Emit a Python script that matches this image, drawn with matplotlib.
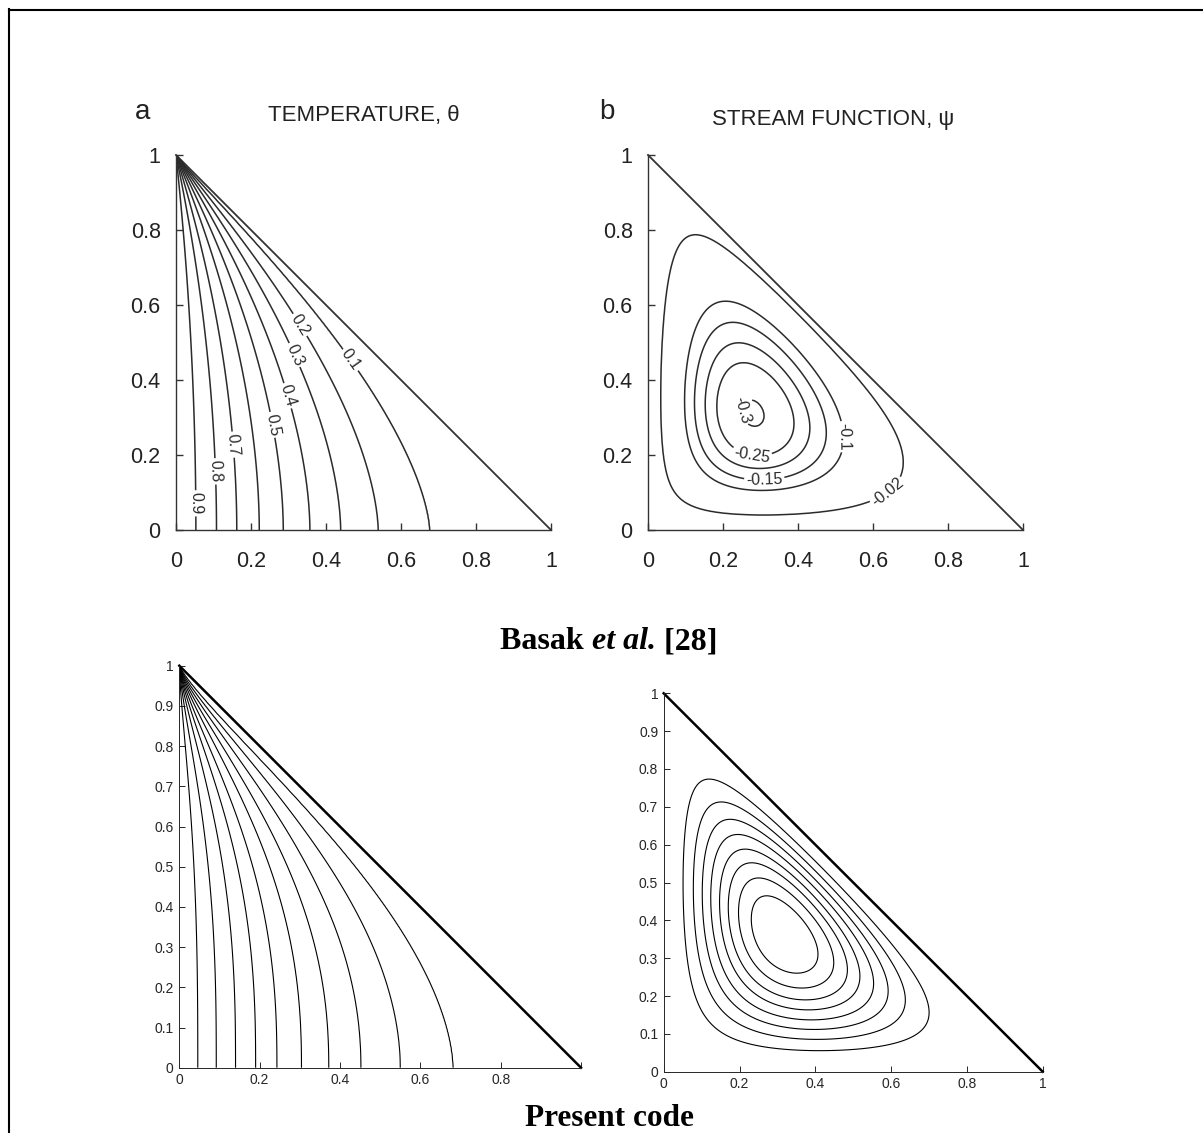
import numpy as np
import matplotlib.pyplot as plt
from matplotlib.lines import Line2D
from matplotlib.ticker import FormatStrFormatter

plt.rcParams['font.family'] = ['Liberation Sans', 'DejaVu Sans']

W, H = 1203, 1133

# --- Basak et al. : isotherms (level, and x where each one meets the adiabatic floor)
theta_levels = [0.9, 0.8, 0.7, 0.6, 0.5, 0.4, 0.3, 0.2, 0.1]
theta_foot = [0.053, 0.108, 0.162, 0.222, 0.286, 0.357, 0.439, 0.539, 0.676]
theta_labelled = [0.9, 0.8, 0.7, 0.5, 0.4, 0.3, 0.2, 0.1]

# --- Basak et al. : streamlines; extremes (top, right, left, bottom) of each loop
psi_levels = [-0.02, -0.1, -0.15, -0.2, -0.25, -0.3]
psi_labelled = [-0.3, -0.25, -0.15, -0.1, -0.02]
psi_min = -0.31
psi_centre = (0.28, 0.31)
psi_loops = [
    [(0.103, 0.78), (0.678, 0.164), (0.034, 0.42), (0.308, 0.04)],
    [(0.174, 0.618), (0.539, 0.204), (0.112, 0.40), (0.29, 0.111)],
    [(0.192, 0.56), (0.481, 0.231), (0.134, 0.39), (0.29, 0.138)],
    [(0.219, 0.498), (0.436, 0.267), (0.156, 0.38), (0.29, 0.169)],
    [(0.228, 0.444), (0.388, 0.307), (0.179, 0.373), (0.281, 0.213)],
    [(0.28, 0.333), (0.312, 0.31), (0.242, 0.31), (0.28, 0.288)],
]

# --- present code
present_theta_levels = [0.91, 0.82, 0.73, 0.64, 0.55, 0.45, 0.36, 0.27, 0.18, 0.09]
present_theta_foot = [0.046, 0.092, 0.140, 0.190, 0.243, 0.304, 0.372, 0.452, 0.550, 0.681]
present_centre = (0.315, 0.36)
present_loops = [
    [(0.131, 0.773), (0.694, 0.189), (0.052, 0.445), (0.32, 0.059)],
    [(0.153, 0.709), (0.633, 0.211), (0.077, 0.43), (0.325, 0.089)],
    [(0.188, 0.661), (0.588, 0.225), (0.100, 0.42), (0.325, 0.115)],
    [(0.201, 0.617), (0.551, 0.242), (0.122, 0.41), (0.325, 0.139)],
    [(0.223, 0.579), (0.516, 0.256), (0.147, 0.40), (0.325, 0.165)],
    [(0.245, 0.542), (0.478, 0.278), (0.168, 0.39), (0.328, 0.189)],
    [(0.263, 0.504), (0.442, 0.308), (0.193, 0.38), (0.328, 0.225)],
    [(0.285, 0.455), (0.401, 0.33), (0.228, 0.366), (0.329, 0.262)],
]


def feat(x, y):
    z = 1 - x - y
    return np.array([np.log(x), np.log(y), np.log(z), x, y, x * x])


def fit_cell(loops, centre):
    # log of the cell strength is linear in its parameters: make every loop
    # an iso-line and put the peak at the centre (exponent on x fixed to 2)
    rows, rhs = [], []
    for i, pts in enumerate(loops):
        w = 2.0 if i == 0 else 1.0
        f0 = feat(*pts[0])
        for p in pts[1:]:
            rows.append(w * (feat(*p) - f0))
            rhs.append(0.0)
    xc, yc = centre
    zc = 1 - xc - yc
    rows.append(3 * np.array([1 / xc, 0, -1 / zc, 1, 0, 2 * xc]))
    rows.append(3 * np.array([0, 1 / yc, -1 / zc, 0, 1, 0]))
    rows.append(20 * np.array([1.0, 0, 0, 0, 0, 0]))
    rhs += [0.0, 0.0, 40.0]
    u, *_ = np.linalg.lstsq(np.array(rows), np.array(rhs), rcond=None)
    return u


def cell(X, Y, u, loops):
    Z = 1 - X - Y
    ok = (X > 0) & (Y > 0) & (Z > 0)
    lf = np.full(X.shape, -np.inf)
    lf[ok] = np.tensordot(u, feat(X[ok], Y[ok]), axes=1)
    top = lf.max()
    depth = [np.mean([np.exp(u @ feat(*p) - top) for p in pts]) for pts in loops]
    return np.exp(lf - top), depth


def temperature(X, Y, foot, levels, m0, m1, k0, k1):
    # each isotherm runs x = x0 * (1 - y**m)**k from its foot x0 up to the corner (0, 1)
    lo = np.zeros_like(X)
    hi = np.full_like(X, 1.3)
    for _ in range(40):
        mid = 0.5 * (lo + hi)
        m = m0 - m1 * mid
        k = k0 + k1 * mid
        xm = mid * (1 - Y ** m) ** k
        left = xm < X
        lo = np.where(left, mid, lo)
        hi = np.where(left, hi, mid)
    x0 = 0.5 * (lo + hi)
    T = np.interp(x0, [0] + foot + [1.0], [1.0] + levels + [0.0])
    T[X + Y > 1.0005] = np.nan
    return T


g = np.linspace(0, 1, 401)
X, Y = np.meshgrid(g, g)

fig = plt.figure(figsize=(W / 100, H / 100), dpi=100)


def px_axes(xa, xb, ya, yb):
    # xa, xb: pixel x of data 0 and 1; ya, yb: pixel y of data 0 and 1
    return fig.add_axes([xa / W, 1 - ya / H, (xb - xa) / W, (ya - yb) / H])


def top_style(ax):
    ax.set_xlim(0, 1)
    ax.set_ylim(0, 1)
    for s in ['top', 'right']:
        ax.spines[s].set_visible(False)
    for s in ['left', 'bottom']:
        ax.spines[s].set_color('#333333')
        ax.spines[s].set_linewidth(1.0)
    ticks = [0, 0.2, 0.4, 0.6, 0.8, 1]
    ax.set_xticks(ticks)
    ax.set_yticks(ticks)
    ax.xaxis.set_major_formatter(FormatStrFormatter('%g'))
    ax.yaxis.set_major_formatter(FormatStrFormatter('%g'))
    ax.tick_params(direction='in', length=5, width=1.0, color='#333333',
                   labelsize=15.5, labelcolor='#222222')
    ax.tick_params(axis='x', pad=15)
    ax.tick_params(axis='y', pad=11)
    ax.plot([0, 1], [1, 0], color='#333333', lw=1.3, clip_on=False)


def bottom_style(ax, xlabels):
    ax.set_xlim(0, 1)
    ax.set_ylim(0, 1)
    for s in ['top', 'right']:
        ax.spines[s].set_visible(False)
    for s in ['left', 'bottom']:
        ax.spines[s].set_color('#262626')
        ax.spines[s].set_linewidth(0.7)
    ax.set_xticks([0, 0.2, 0.4, 0.6, 0.8, 1])
    ax.set_xticklabels(xlabels)
    ax.set_yticks(np.round(np.arange(0, 1.01, 0.1), 1))
    ax.yaxis.set_major_formatter(FormatStrFormatter('%g'))
    ax.tick_params(direction='in', length=4, width=0.7, color='#262626',
                   labelsize=10, labelcolor='#262626', pad=4)
    ax.plot([0, 1], [1, 0], color='black', lw=1.8, clip_on=False)


line_col = '#2b2b2b'

# (a) temperature, Basak et al.
ax1 = px_axes(176, 551, 530, 155)
top_style(ax1)
T1 = temperature(X, Y, theta_foot, theta_levels, 2.05, 0.75, 1.0, 0.1)
plain = [v for v in theta_levels if v not in theta_labelled]
ax1.contour(X, Y, T1, levels=sorted(plain), colors=line_col, linewidths=1.1)
cs1 = ax1.contour(X, Y, T1, levels=sorted(theta_labelled), colors=line_col, linewidths=1.1)
ax1.clabel(cs1, fmt='%g', fontsize=11.5, inline_spacing=2,
           manual=[(0.044, 0.071), (0.095, 0.156), (0.144, 0.227), (0.255, 0.28),
                   (0.304, 0.36), (0.317, 0.467), (0.322, 0.542), (0.46, 0.449)])

# (b) stream function, Basak et al.
ax2 = px_axes(648, 1023, 530, 155)
top_style(ax2)
G2, depth2 = cell(X, Y, fit_cell(psi_loops, psi_centre), psi_loops)
order = np.argsort(depth2)
psi = np.interp(G2, [0.0] + [depth2[i] for i in order] + [1.0],
                [0.0] + [psi_levels[i] for i in order] + [psi_min])
plain = [v for v in psi_levels if v not in psi_labelled]
ax2.contour(X, Y, psi, levels=sorted(plain), colors=line_col, linewidths=1.1,
            linestyles='solid')
cs2 = ax2.contour(X, Y, psi, levels=sorted(psi_labelled), colors=line_col, linewidths=1.1,
                  linestyles='solid')
labels2 = ax2.clabel(cs2, fmt='%g', fontsize=11.5, inline_spacing=2,
                     manual=[(0.25, 0.32), (0.28, 0.222), (0.31, 0.14), (0.53, 0.249),
                             (0.64, 0.1)])
for t in labels2:
    if t.get_text() == '-0.3':
        t.set_rotation(-75)

# (c) temperature, present code
ax3 = px_axes(179.3, 581, 1067.7, 665.7)
bottom_style(ax3, ['0', '0.2', '0.4', '0.6', '0.8', ''])
T3 = temperature(X, Y, present_theta_foot, present_theta_levels, 2.8, 1.6, 1.45, -0.35)
ax3.contour(X, Y, T3, levels=sorted(present_theta_levels), colors='black', linewidths=0.8)

# (d) stream function, present code
ax4 = px_axes(663.7, 1042.7, 1071.7, 693.3)
bottom_style(ax4, ['0', '0.2', '0.4', '0.6', '0.8', '1'])
G4, depth4 = cell(X, Y, fit_cell(present_loops, present_centre), present_loops)
ax4.contour(X, Y, G4, levels=sorted(depth4), colors='black', linewidths=0.8,
            linestyles='solid')

fig.text(143 / W, 1 - 112 / H, 'a', fontsize=20, ha='center', va='center', color='#222222')
fig.text(607 / W, 1 - 112 / H, 'b', fontsize=20, ha='center', va='center', color='#222222')
fig.text(364 / W, 1 - 116 / H, 'TEMPERATURE, θ', fontsize=16, ha='center', va='center', color='#222222')
fig.text(833 / W, 1 - 120 / H, 'STREAM FUNCTION, ψ', fontsize=16, ha='center', va='center', color='#222222')

# captions in bold Times with italic "et al."
serif = ['Liberation Serif', 'DejaVu Serif']
r = fig.canvas.get_renderer()
parts = [('Basak ', 'normal'), ('et al.', 'italic'), (' [28]', 'normal')]
texts = [fig.text(0, 1 - 649 / H, s, fontsize=23, family=serif, weight='bold', style=st, va='baseline')
         for s, st in parts]
widths = [t.get_window_extent(r).width for t in texts]
x = 609 - sum(widths) / 2
for t, w in zip(texts, widths):
    t.set_x(x / W)
    x += w
fig.text(609 / W, 1 - 1126 / H, 'Present code', fontsize=22.5, family=serif, weight='bold',
         ha='center', va='baseline')

# page frame
fig.add_artist(Line2D([9 / W, 9 / W], [0, 1 - 9 / H], color='black', lw=1.5))
fig.add_artist(Line2D([9 / W, 1], [1 - 9.5 / H, 1 - 9.5 / H], color='black', lw=1.5))

fig.savefig('out.png', dpi=100)
